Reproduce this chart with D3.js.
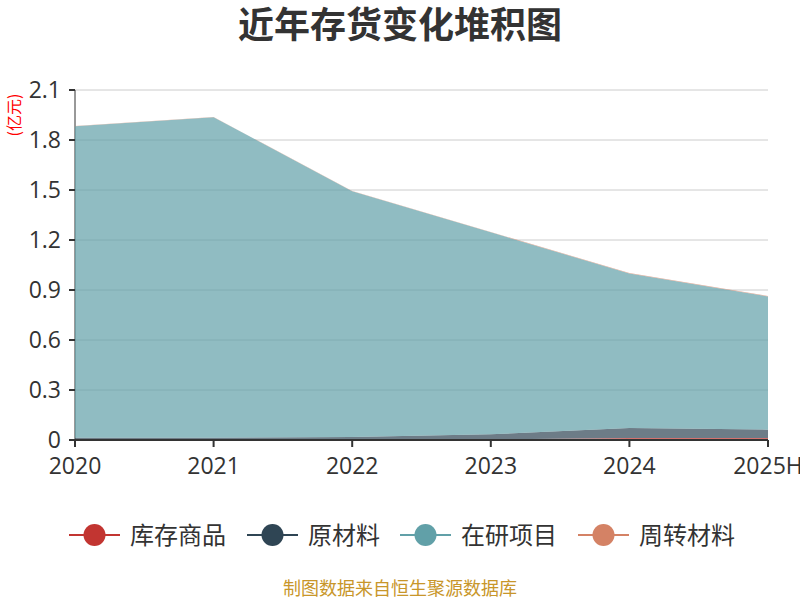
<!DOCTYPE html>
<html>
<head>
<meta charset="utf-8">
<script src="https://cdn.jsdelivr.net/npm/d3@7"></script>
<style>
  body { margin: 0; background: #fff; }
  text { font-family: "Noto Sans CJK SC", "Noto Sans", sans-serif; }
  .num { font-family: "Open Sans", "Noto Sans", sans-serif; }
</style>
</head>
<body>
<div id="chartArea"></div>
<script>
// data
const years = ['2020', '2021', '2022', '2023', '2024', '2025H']
const seriesNames = ['库存商品', '原材料', '在研项目', '周转材料']
const kucun = [0.002, 0.002, 0.003, 0.004, 0.012, 0.012]
const yuancailiao = [0.012, 0.012, 0.015, 0.03, 0.06, 0.05]
const zaiyan = [1.869, 1.923, 1.474, 1.212, 0.927, 0.799]
const zhouzhuan = [0.001, 0.001, 0.002, 0.002, 0.003, 0.003]
const yTicks = [0, 0.3, 0.6, 0.9, 1.2, 1.5, 1.8, 2.1]
const colors = ['#c23531', '#2f4554', '#61a0a8', '#d48265']

const width = 800
const height = 600
const margin = { top: 90, right: 32, bottom: 160, left: 75 }
const innerWidth = width - margin.left - margin.right
const innerHeight = height - margin.top - margin.bottom

const rows = years.map((y, i) => ({
  year: y,
  '库存商品': kucun[i],
  '原材料': yuancailiao[i],
  '在研项目': zaiyan[i],
  '周转材料': zhouzhuan[i]
}))

const stacked = d3.stack().keys(seriesNames)(rows)

const svg = d3.select('#chartArea').append('svg')
  .attr('width', width)
  .attr('height', height)

const xScale = d3.scalePoint().domain(years).range([0, innerWidth])
const yScale = d3.scaleLinear().domain([0, 2.1]).range([innerHeight, 0])

// title
svg.append('text')
  .attr('x', width / 2)
  .attr('y', 25)
  .attr('dy', '0.36em')
  .attr('text-anchor', 'middle')
  .attr('font-size', 36)
  .attr('font-weight', 'bold')
  .attr('fill', '#333')
  .text('近年存货变化堆积图')

const plotG = svg.append('g')
  .attr('transform', `translate(${margin.left},${margin.top})`)

// grid lines
plotG.append('g')
  .selectAll('line')
  .data(yTicks.filter(d => d > 0))
  .join('line')
  .attr('x1', 0)
  .attr('x2', innerWidth)
  .attr('y1', d => yScale(d))
  .attr('y2', d => yScale(d))
  .attr('stroke', '#ccc')
  .attr('stroke-width', 1)

// y axis line
plotG.append('line')
  .attr('y1', 0)
  .attr('y2', innerHeight)
  .attr('stroke', '#333')
  .attr('stroke-width', 1)

// areas
const area = d3.area()
  .x(d => xScale(d.data.year))
  .y0(d => yScale(d[0]))
  .y1(d => yScale(d[1]))

plotG.append('g')
  .selectAll('path')
  .data(stacked)
  .join('path')
  .attr('d', area)
  .attr('fill', (d, i) => colors[i])
  .attr('fill-opacity', 0.7)

// y axis ticks + labels
const yAxisG = plotG.append('g')
yAxisG.selectAll('line')
  .data(yTicks)
  .join('line')
  .attr('x1', -6)
  .attr('x2', 0)
  .attr('y1', d => yScale(d))
  .attr('y2', d => yScale(d))
  .attr('stroke', '#333')
  .attr('stroke-width', 2)
yAxisG.selectAll('text')
  .data(yTicks)
  .join('text')
  .attr('class', 'num')
  .attr('x', -14)
  .attr('y', d => yScale(d))
  .attr('dy', '0.36em')
  .attr('text-anchor', 'end')
  .attr('font-size', 23)
  .attr('fill', '#333')
  .text(d => d === 0 ? '0' : d.toFixed(1))

// unit label
svg.append('text')
  .attr('transform', `translate(14,${115}) rotate(-90)`)
  .attr('text-anchor', 'middle')
  .attr('dy', '0.35em')
  .attr('font-size', 16)
  .attr('fill', '#ff0000')
  .text('(亿元)')

// x axis
const xAxisG = plotG.append('g')
xAxisG.append('line')
  .attr('x1', 0)
  .attr('x2', innerWidth)
  .attr('y1', innerHeight)
  .attr('y2', innerHeight)
  .attr('stroke', '#333')
  .attr('stroke-width', 2)
xAxisG.selectAll('.tick')
  .data(years)
  .join('line')
  .attr('x1', d => xScale(d))
  .attr('x2', d => xScale(d))
  .attr('y1', innerHeight)
  .attr('y2', innerHeight + 7)
  .attr('stroke', '#333')
  .attr('stroke-width', 2)
xAxisG.selectAll('text')
  .data(years)
  .join('text')
  .attr('class', 'num')
  .attr('x', d => xScale(d))
  .attr('y', innerHeight + 26)
  .attr('dy', '0.36em')
  .attr('text-anchor', 'middle')
  .attr('font-size', 23)
  .attr('fill', '#333')
  .text(d => d)

// legend
const legendX = [69, 247, 400, 578]
const legendG = svg.append('g')
const items = legendG.selectAll('g')
  .data(seriesNames)
  .join('g')
  .attr('transform', (d, i) => `translate(${legendX[i]},535)`)
items.append('line')
  .attr('x1', 0)
  .attr('x2', 51)
  .attr('stroke', (d, i) => colors[i])
  .attr('stroke-width', 2)
items.append('circle')
  .attr('cx', 25.5)
  .attr('r', 11)
  .attr('fill', (d, i) => colors[i])
items.append('text')
  .attr('x', 61)
  .attr('dy', '0.36em')
  .attr('font-size', 24)
  .attr('fill', '#333')
  .text(d => d)

// footer
svg.append('text')
  .attr('x', width / 2)
  .attr('y', 589)
  .attr('dy', '0.36em')
  .attr('text-anchor', 'middle')
  .attr('font-size', 18)
  .attr('fill', '#c8962a')
  .text('制图数据来自恒生聚源数据库')
</script>
</body>
</html>
